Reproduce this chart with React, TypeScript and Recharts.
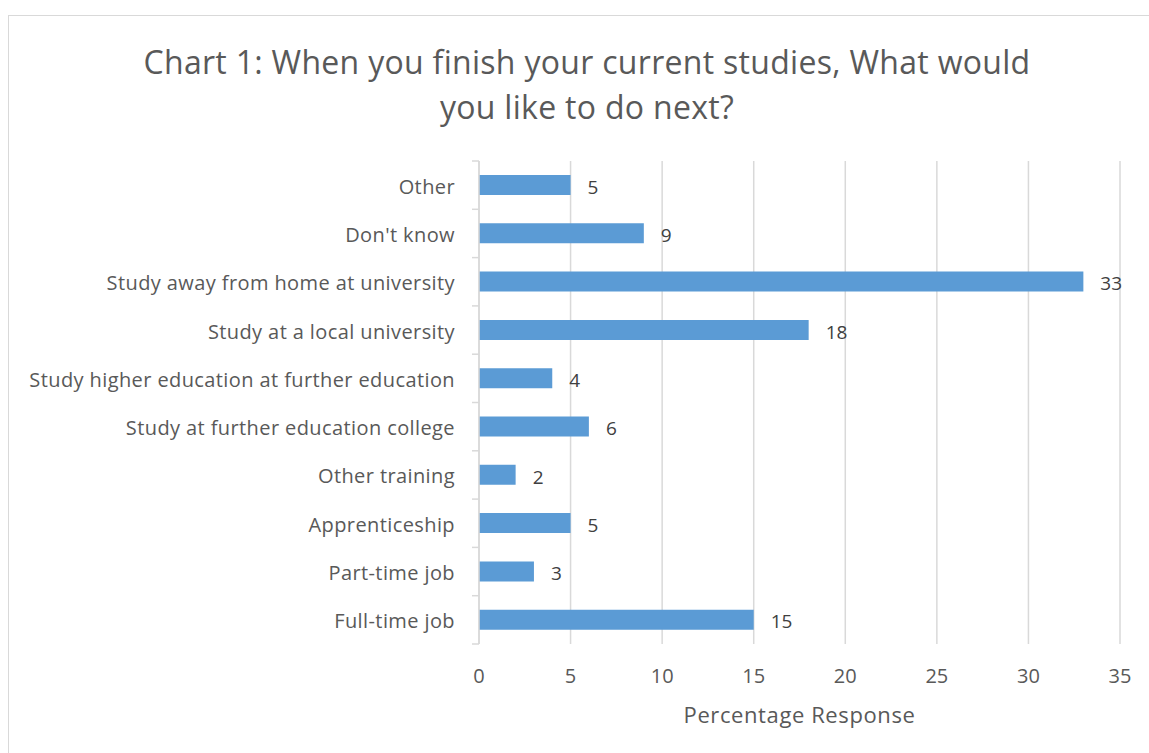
import React from "react";
import {
  BarChart,
  Bar,
  XAxis,
  YAxis,
  CartesianGrid,
  LabelList,
  Label,
} from "recharts";

const categories = [
  "Other",
  "Don't know",
  "Study away from home at university",
  "Study at a local university",
  "Study higher education at further education",
  "Study at further education college",
  "Other training",
  "Apprenticeship",
  "Part-time job",
  "Full-time job",
];
const responses = [5, 9, 33, 18, 4, 6, 2, 5, 3, 15];
const xTicks = [0, 5, 10, 15, 20, 25, 30, 35];

const titleLines = [
  "Chart 1: When you finish your current studies, What would",
  "you like to do next?",
];

const FONT = "'Open Sans', 'Noto Sans', sans-serif";
const GRID = "#d9d9d9";
const TEXT = "#595959";

const data = categories.map((c, i) => ({ name: c, value: responses[i] }));

// y tick: label plus Excel-style tick marks on band boundaries
function CategoryTick(props: any) {
  const { x, y, payload, index } = props;
  const half = payload?.offset ?? 24;
  const axisX = x + 24;
  return (
    <g>
      {index === 0 && (
        <line x1={axisX - 7} x2={axisX} y1={y - half} y2={y - half} stroke={GRID} strokeWidth={1.5} />
      )}
      <line x1={axisX - 7} x2={axisX} y1={y + half} y2={y + half} stroke={GRID} strokeWidth={1.5} />
      <text
        x={x}
        y={y + 1.5}
        dy="0.35em"
        textAnchor="end"
        fill={TEXT}
        fontSize={20}
        letterSpacing={0.4}
        fontFamily={FONT}
      >
        {payload.value}
      </text>
    </g>
  );
}

export default function App() {
  return (
    <div
      style={{
        position: "absolute",
        left: 0,
        top: 0,
        width: 1149,
        height: 753,
        overflow: "hidden",
        background: "#fff",
      }}
    >
      {/* chart frame */}
      <div
        style={{
          position: "absolute",
          left: 8,
          top: 15,
          width: 1180,
          height: 800,
          border: `1.5px solid ${GRID}`,
        }}
      />

      {/* title */}
      <div
        style={{
          position: "absolute",
          left: 9,
          width: 1156,
          top: 39,
          textAlign: "center",
          fontFamily: FONT,
          fontSize: 32,
          letterSpacing: 0.3,
          lineHeight: "45px",
          color: TEXT,
        }}
      >
        {titleLines.map((t) => (
          <div key={t}>{t}</div>
        ))}
      </div>

      <div style={{ position: "absolute", left: 0, top: 0 }}>
        <BarChart
          width={1149}
          height={753}
          data={data}
          layout="vertical"
          margin={{ top: 161, right: 29, bottom: 49, left: 9 }}
        >
          <CartesianGrid horizontal={false} stroke={GRID} strokeWidth={1.5} />
          <XAxis
            type="number"
            domain={[0, 35]}
            ticks={xTicks}
            axisLine={false}
            tickLine={false}
            tickSize={0}
            tickMargin={25}
            height={60}
            tick={{ fill: TEXT, fontSize: 20, fontFamily: FONT }}
          >
            <Label
              value="Percentage Response"
              position="bottom"
              offset={3}
              fill={TEXT}
              fontSize={22}
              letterSpacing={0.6}
              fontFamily={FONT}
            />
          </XAxis>
          <YAxis
            type="category"
            dataKey="name"
            width={470}
            axisLine={{ stroke: GRID, strokeWidth: 1.5 }}
            tickLine={false}
            tickSize={0}
            tickMargin={24}
            tick={<CategoryTick />}
            interval={0}
          />
          <Bar dataKey="value" fill="#5b9bd5" barSize={20} isAnimationActive={false}>
            <LabelList
              dataKey="value"
              position="right"
              offset={17}
              dy={2}
              fill="#404040"
              fontSize={19}
              fontFamily={FONT}
            />
          </Bar>
        </BarChart>
      </div>
    </div>
  );
}
